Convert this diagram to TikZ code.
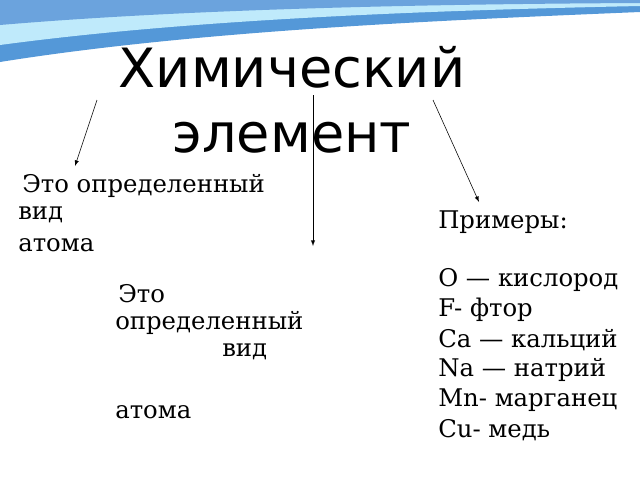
\documentclass[tikz,border=0pt]{standalone}
\usepackage{fontspec}
\setmainfont{DejaVu Serif}
\newfontfamily\titlefont{DejaVu Sans}
\begin{document}
\begin{tikzpicture}[x=0.025cm, y=-0.025cm,
    txt/.style={anchor=west, inner sep=0pt, font=\fontsize{17.3}{20}\selectfont},
    arrow/.style={-latex, thin}
]
\useasboundingbox (0,0) rectangle (640,480);
% top band
\fill[cyan!60!blue!70] (0,0) -- (640,0) -- (640,12) .. controls (450,20) and (200,30) .. (0,62) -- cycle;
\fill[cyan!25] (0,0) -- (640,0) -- (640,6) .. controls (450,10) and (200,18) .. (0,45) -- cycle;
\fill[cyan!60!blue!60] (0,0) -- (640,0) -- (640,3) .. controls (450,4) and (200,8) .. (0,25) -- cycle;

% title
\node[font=\titlefont\fontsize{38.5}{46}\selectfont, align=center] (title) at (292,100) {Химический\\элемент};

% anchors
\coordinate (a1s) at (97,100);
\coordinate (a1e) at (75,166);
\coordinate (a2s) at (313,95);
\coordinate (a2e) at (313,246);
\coordinate (a3s) at (433,100);
\coordinate (a3e) at (479,202);
\draw[arrow] (a1s) -- (a1e);
\draw[arrow] (a2s) -- (a2e);
\draw[arrow] (a3s) -- (a3e);

% left text
\node[txt] (l1) at (22,186) {Это определенный};
\node[txt] (l2) at (18,215) {вид};
\node[txt] (l3) at (18,245) {атома};

% middle text
\node[txt] (m1) at (118,294) {Это};
\node[txt] (m2) at (115,323) {определенный};
\node[txt] (m3) at (222,352) {вид};
\node[txt] (m4) at (115,412) {атома};

% examples
\node[txt] (r0) at (438,222) {Примеры:};
\node[txt] (r1) at (438,280) {O — кислород};
\node[txt] (r2) at (438,310) {F- фтор};
\node[txt] (r3) at (438,340) {Ca — кальций};
\node[txt] (r4) at (438,370) {Na — натрий};
\node[txt] (r5) at (438,400) {Mn- марганец};
\node[txt] (r6) at (438,430) {Cu- медь};
\end{tikzpicture}
\end{document}
